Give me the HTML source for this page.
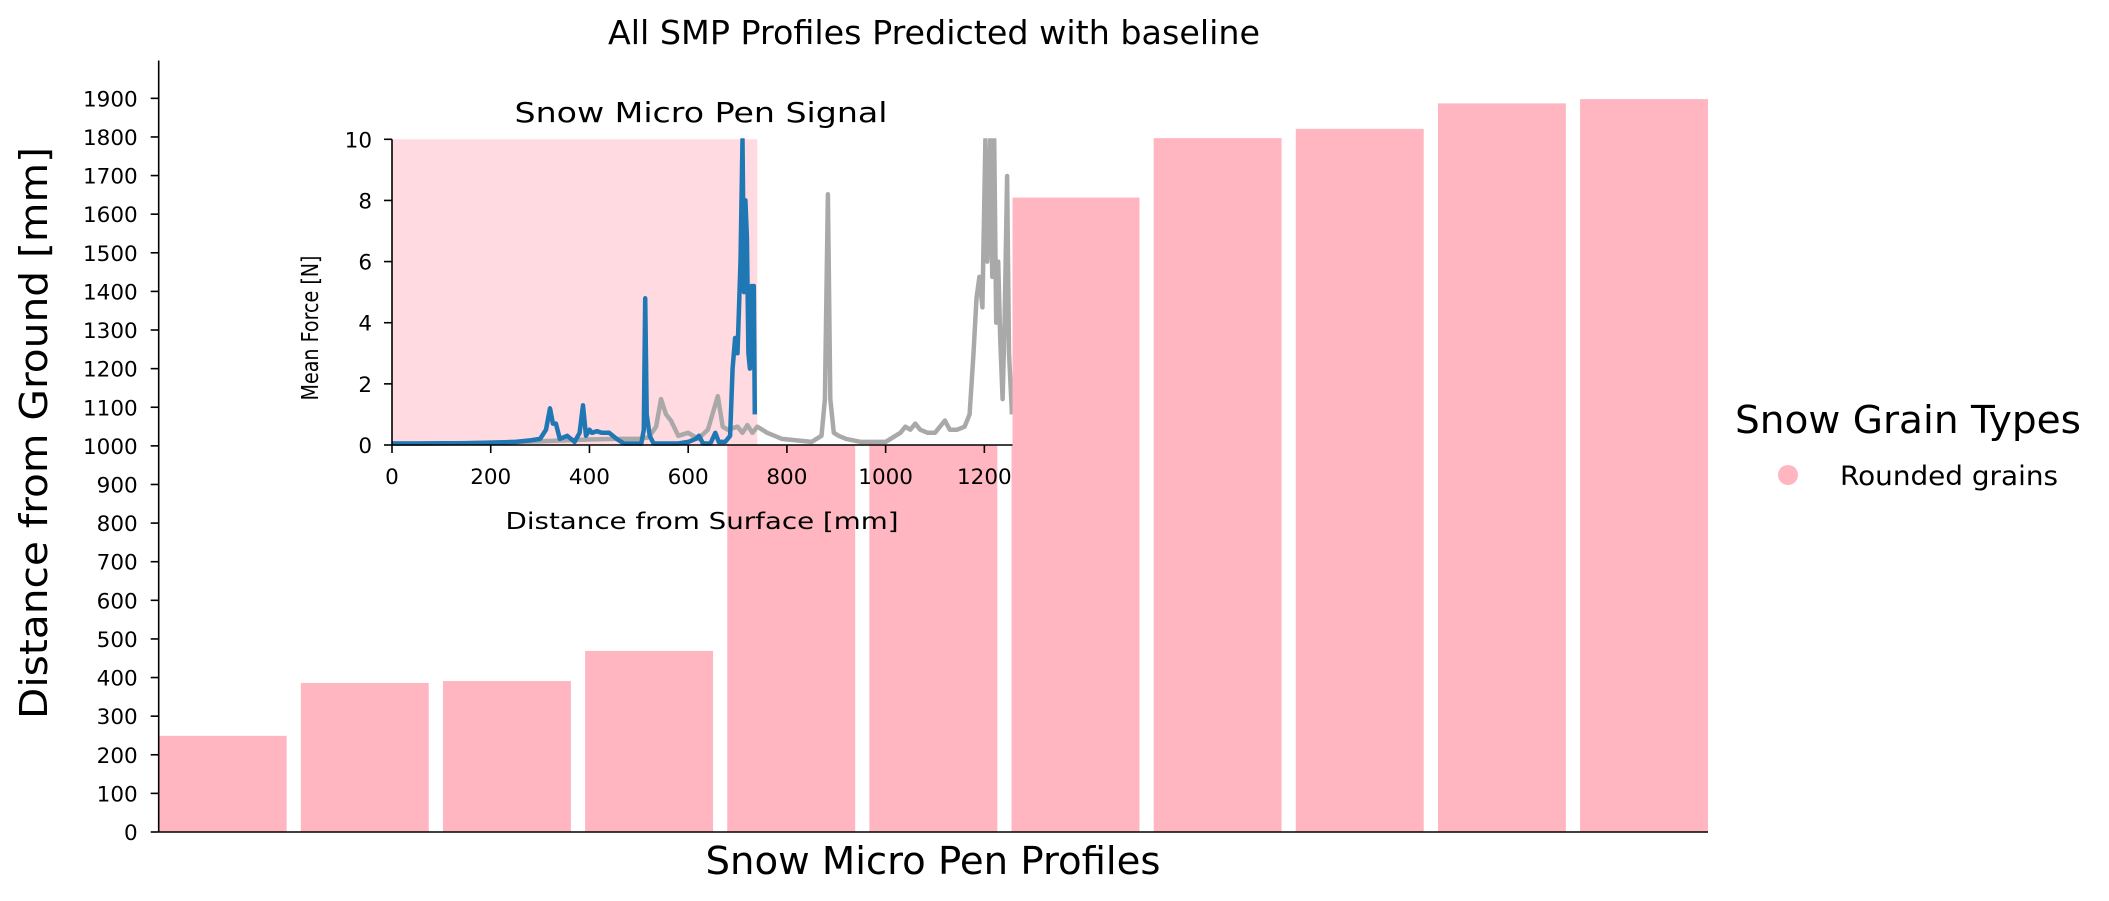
<!DOCTYPE html>
<html><head><meta charset="utf-8"><style>
html,body{margin:0;padding:0;background:#fff;}
svg{display:block;font-family:"DejaVu Sans","Liberation Sans",sans-serif;}
</style></head><body>
<svg id="chart" width="2109" height="901" viewBox="0 0 2109 901" xmlns="http://www.w3.org/2000/svg">
<rect width="2109" height="901" fill="#fff"/>
<g id="main"></g>
<g id="inset"></g>
<text x="934" y="44" font-size="33" text-anchor="middle" textLength="652" lengthAdjust="spacingAndGlyphs">All SMP Profiles Predicted with baseline</text>
<text x="933" y="874" font-size="38" text-anchor="middle" textLength="455" lengthAdjust="spacingAndGlyphs">Snow Micro Pen Profiles</text>
<text transform="translate(47,433) rotate(-90)" font-size="38" text-anchor="middle" textLength="572" lengthAdjust="spacingAndGlyphs">Distance from Ground [mm]</text>
<g>
<text x="1735" y="433" font-size="38" textLength="346" lengthAdjust="spacingAndGlyphs">Snow Grain Types</text>
<circle cx="1788" cy="475" r="10" fill="#ffb6c1"/>
<text x="1840" y="485" font-size="27" textLength="218" lengthAdjust="spacingAndGlyphs">Rounded grains</text>
</g>
</svg>
<script>
// Main bar chart data
const profiles = ["P1","P2","P3","P4","P5","P6","P7","P8","P9","P10","P11"];
const depths = [249, 386, 391, 469, 1450, 1550, 1643, 1797, 1821, 1887, 1898];
const yTicks = [0,100,200,300,400,500,600,700,800,900,1000,1100,1200,1300,1400,1500,1600,1700,1800,1900];

// Inset signal data (distance mm, force N)
const blueX = [0,50,100,150,200,250,280,300,312,320,326,332,340,355,370,380,387,393,400,405,415,425,440,455,470,490,505,510,513,516,522,530,545,580,600,615,622,630,645,655,662,675,685,690,695,700,706,710,713,716,719,722,725,728,731,733,735];
const blueY = [0.05,0.05,0.06,0.06,0.08,0.1,0.15,0.2,0.5,1.2,0.7,0.7,0.2,0.3,0.1,0.4,1.3,0.3,0.5,0.4,0.45,0.4,0.4,0.2,0.05,0.05,0.05,0.5,4.8,1.0,0.3,0.05,0.05,0.05,0.1,0.2,0.3,0.05,0.05,0.4,0.1,0.1,0.3,2.5,3.5,3.0,6.0,10,5,8,6.8,3.0,2.5,5.2,4.0,5.2,1.0];
const grayX = [0,100,200,300,400,450,500,520,535,545,555,565,580,600,620,640,660,670,680,700,710,720,730,740,750,760,775,790,820,850,870,877,883,888,895,905,920,950,1000,1020,1030,1040,1050,1060,1070,1085,1100,1115,1120,1130,1145,1160,1170,1178,1184,1190,1196,1202,1206,1212,1216,1220,1224,1228,1232,1237,1241,1246,1250,1256];
const grayY = [0.05,0.05,0.08,0.12,0.18,0.2,0.2,0.25,0.6,1.5,1.0,0.8,0.3,0.4,0.2,0.5,1.6,0.6,0.5,0.6,0.4,0.65,0.4,0.6,0.5,0.4,0.3,0.2,0.15,0.1,0.3,1.5,8.2,1.5,0.4,0.3,0.2,0.1,0.1,0.3,0.4,0.6,0.5,0.7,0.5,0.4,0.4,0.7,0.8,0.5,0.5,0.6,1.0,3.0,4.8,5.5,4.5,10,6.0,10,5.5,10,4.0,6.0,3.5,1.5,4.0,8.8,3.0,1.0];
const xTicksInset = [0,200,400,600,800,1000,1200];
const yTicksInset = [0,2,4,6,8,10];
const spanEnd = [740];

const NS = "http://www.w3.org/2000/svg";
function mk(tag, attrs, parent){ const e=document.createElementNS(NS,tag); for(const k in attrs) e.setAttribute(k,attrs[k]); parent.appendChild(e); return e; }

// main axes
const M = {l:158.7, r:1708, t:60.5, b:832};
const xMin=-0.45, xMax=10.45, yMax=1998;
const sx = v => M.l + (v - xMin)/(xMax - xMin)*(M.r - M.l);
const sy = v => M.b - v/yMax*(M.b - M.t);
const main = document.getElementById('main');
profiles.forEach((p,i)=>{
  const r = mk('rect',{x:sx(i-0.45), y:sy(depths[i]), width:sx(i+0.45)-sx(i-0.45), height:M.b - sy(depths[i]), fill:'#ffb6c1'}, main);
  
  
});
yTicks.forEach(t=>{
  const y = sy(t);
  const tk = mk('line',{x1:M.l-8, x2:M.l, y1:y, y2:y, stroke:'#000','stroke-width':1.6}, main);
  
  
  const tl = mk('text',{x:M.l-21, y:y+8, 'font-size':21.5, 'text-anchor':'end'}, main);
  tl.textContent = t;
  
  
});
const ls = mk('line',{x1:M.l, x2:M.l, y1:M.t, y2:M.b, stroke:'#000','stroke-width':1.6}, main);


const bs = mk('line',{x1:M.l, x2:M.r, y1:M.b, y2:M.b, stroke:'#000','stroke-width':1.6}, main);



// inset
const I = {l:392, r:1012.5, t:139.3, b:445};
const ixMax = 1257, iyMax = 10;
const ix = v => I.l + v/ixMax*(I.r - I.l);
const iy = v => I.b - Math.min(v,iyMax)/iyMax*(I.b - I.t);
const inset = document.getElementById('inset');
const bg = mk('rect',{x:I.l, y:I.t, width:I.r-I.l, height:I.b-I.t, fill:'#fff'}, inset);


const sp = mk('rect',{x:ix(0), y:I.t, width:ix(spanEnd[0])-ix(0), height:I.b-I.t, fill:'#ffb6c1', 'fill-opacity':0.5}, inset);


function pathFrom(xs, ys){ return xs.map((x,i)=>(i?'L':'M')+ix(x).toFixed(1)+','+iy(ys[i]).toFixed(1)).join(' '); }
const clip = mk('clipPath',{id:'insetClip'}, inset);
mk('rect',{x:I.l, y:I.t-1, width:I.r-I.l, height:I.b-I.t+2}, clip);
const gl = mk('path',{d:pathFrom(grayX,grayY), fill:'none', stroke:'#a9a9a9','stroke-width':4.5,'stroke-linejoin':'round','clip-path':'url(#insetClip)'}, inset);


const bl = mk('path',{d:pathFrom(blueX,blueY), fill:'none', stroke:'#1f77b4','stroke-width':4.5,'stroke-linejoin':'round','clip-path':'url(#insetClip)'}, inset);


xTicksInset.forEach(t=>{
  const x = ix(t);
  const tk = mk('line',{x1:x, x2:x, y1:I.b, y2:I.b+8, stroke:'#000','stroke-width':1.6}, inset);
  
  
  const tl = mk('text',{x:x, y:I.b+39, 'font-size':21.5, 'text-anchor':'middle'}, inset);
  tl.textContent = t;
  
  
});
yTicksInset.forEach(t=>{
  const y = iy(t);
  const tk = mk('line',{x1:I.l-8, x2:I.l, y1:y, y2:y, stroke:'#000','stroke-width':1.6}, inset);
  
  
  const tl = mk('text',{x:I.l-20, y:y+8, 'font-size':21.5, 'text-anchor':'end'}, inset);
  tl.textContent = t;
  
  
});
const il = mk('line',{x1:I.l, x2:I.l, y1:I.t, y2:I.b, stroke:'#000','stroke-width':1.6}, inset);


const ib = mk('line',{x1:I.l, x2:I.r, y1:I.b, y2:I.b, stroke:'#000','stroke-width':1.6}, inset);


const it = mk('text',{x:701, y:122, 'font-size':28, 'text-anchor':'middle', textLength:373, lengthAdjust:'spacingAndGlyphs'}, inset);
it.textContent = 'Snow Micro Pen Signal';


const ixl = mk('text',{x:702, y:529, 'font-size':23, 'text-anchor':'middle', textLength:393, lengthAdjust:'spacingAndGlyphs'}, inset);
ixl.textContent = 'Distance from Surface [mm]';


const iyl = mk('text',{transform:'translate(318,328) rotate(-90)', 'font-size':23, 'text-anchor':'middle', textLength:145, lengthAdjust:'spacingAndGlyphs'}, inset);
iyl.textContent = 'Mean Force [N]';


</script>
</body></html>
